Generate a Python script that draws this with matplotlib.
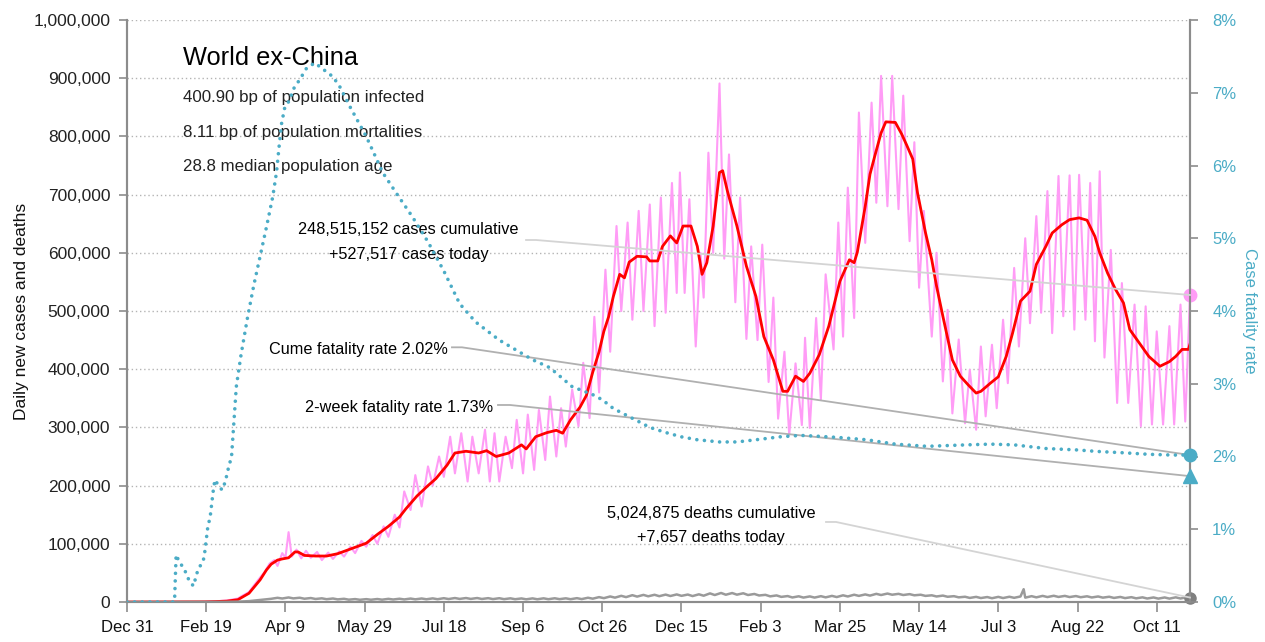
import datetime as dt
import matplotlib
matplotlib.use("Agg")
import matplotlib.pyplot as plt

# ---------------- data ----------------
START = dt.date(2019, 12, 31)
LAST_DAY = 671  # days after START (Nov 1, 2021)

# 7-day average of daily new cases (thousands)
avg_day = [0, 42, 49, 56, 63, 70, 77, 84, 88, 91, 95, 98, 102, 106, 108, 112, 119, 126, 133, 140,
           145, 151, 158, 165, 172, 176, 183, 190, 195, 202, 207, 214, 222, 227, 233, 241, 249, 252,
           258, 265, 271, 275, 280, 286, 290, 294, 298, 301, 304, 307, 311, 314, 317, 322, 328, 330,
           335, 338, 343, 347, 351, 356, 360, 363, 366, 370, 374, 376, 379, 385, 391, 397, 402, 408,
           414, 417, 422, 427, 431, 437, 443, 450, 456, 459, 461, 466, 469, 472, 476, 479, 485, 489,
           492, 496, 499, 504, 508, 511, 515, 521, 526, 531, 536, 539, 545, 550, 555, 559, 564, 570,
           574, 580, 584, 590, 595, 601, 606, 611, 614, 619, 624, 629, 633, 639, 645, 652, 658, 662,
           666, 670, 671]
avg_cases_k = [0, 0.1, 0.3, 0.8, 1.5, 4, 15, 38, 55, 65, 72, 74, 76, 86, 86, 80, 79, 79, 83, 90,
               95, 101, 116, 130, 146, 160, 182, 200, 212, 235, 256, 259, 256, 260, 250, 256, 270, 263,
               284, 291, 295, 290, 313, 335, 355, 395, 430, 465, 490, 525, 563, 557, 584, 594, 593, 586,
               586, 611, 629, 617, 646, 646, 611, 563, 583, 646, 738, 741, 706, 646, 577, 525, 456, 416,
               362, 362, 388, 379, 393, 425, 474, 551, 588, 583, 601, 680, 735, 766, 806, 825, 824, 804,
               786, 761, 703, 635, 588, 543, 491, 416, 388, 373, 359, 362, 376, 387, 422, 462, 517, 534,
               580, 611, 634, 648, 657, 660, 656, 628, 600, 565, 537, 514, 468, 445, 422, 405, 413, 422,
               434, 434, 443]

# daily new cases (thousands), weekly highs and lows
daily_day = [0, 45, 52, 56, 60, 63, 66, 70, 73, 77, 80, 84, 87, 90, 93, 95, 98, 100, 102, 104,
             107, 110, 113, 116, 120, 123, 127, 130, 134, 137, 141, 144, 148, 151, 155, 158, 162, 165,
             169, 172, 175, 179, 182, 186, 190, 193, 197, 200, 204, 207, 211, 215, 218, 222, 226, 229,
             232, 235, 239, 243, 246, 250, 253, 257, 260, 264, 267, 271, 274, 277, 281, 285, 288, 292,
             295, 298, 302, 305, 309, 312, 316, 319, 323, 326, 330, 333, 337, 340, 344, 347, 349, 352,
             355, 359, 362, 364, 367, 370, 374, 377, 380, 384, 387, 391, 394, 398, 401, 405, 408, 411,
             415, 418, 422, 426, 428, 431, 435, 438, 441, 446, 449, 452, 455, 459, 462, 466, 470, 473,
             476, 480, 483, 487, 490, 494, 497, 500, 503, 508, 511, 515, 518, 521, 525, 529, 532, 536,
             539, 542, 546, 549, 553, 556, 560, 563, 567, 570, 574, 577, 581, 584, 588, 591, 595, 598,
             601, 605, 608, 611, 614, 617, 621, 625, 628, 632, 636, 640, 643, 647, 650, 654, 658, 661,
             665, 668, 671]
daily_cases_k = [0, 0, 0.5, 1, 2, 2.5, 4, 6, 11, 17, 28, 42, 52, 66, 72, 62, 84, 76, 120, 78,
                 90, 75, 88, 76, 86, 72, 85, 74, 87, 78, 95, 84, 105, 95, 115, 100, 130, 112,
                 150, 128, 190, 158, 218, 164, 233, 200, 250, 215, 284, 221, 290, 207, 284, 221, 296, 207,
                 290, 207, 284, 230, 313, 221, 322, 227, 330, 244, 353, 250, 333, 267, 365, 302, 411, 316,
                 490, 360, 571, 430, 646, 500, 652, 485, 672, 500, 683, 474, 695, 497, 720, 531, 738, 531,
                 692, 439, 600, 523, 772, 600, 891, 590, 769, 515, 695, 452, 611, 450, 614, 378, 523, 315,
                 430, 287, 410, 304, 454, 299, 488, 348, 563, 434, 652, 456, 712, 488, 841, 617, 858, 686,
                 904, 680, 904, 675, 870, 620, 790, 540, 672, 456, 600, 379, 502, 324, 451, 307, 399, 296,
                 439, 319, 442, 333, 485, 376, 574, 439, 625, 479, 663, 497, 706, 462, 732, 491, 733, 468,
                 734, 485, 720, 448, 740, 420, 605, 342, 548, 342, 511, 302, 508, 305, 465, 305, 474, 305,
                 511, 310, 527.517]

# daily new deaths (thousands)
death_day = [0, 55, 63, 70, 77, 84, 88, 91, 95, 98, 102, 105, 109, 112, 116, 119, 123, 126, 130, 133,
             137, 140, 144, 147, 151, 154, 158, 161, 165, 168, 172, 175, 179, 182, 186, 189, 193, 196,
             200, 203, 207, 210, 214, 217, 221, 224, 228, 231, 235, 238, 242, 245, 249, 252, 256, 259,
             263, 266, 270, 273, 277, 280, 284, 287, 291, 294, 298, 301, 305, 308, 312, 315, 319, 322,
             326, 329, 333, 336, 340, 343, 347, 350, 354, 357, 361, 364, 368, 371, 375, 378, 382, 385,
             389, 392, 396, 399, 403, 406, 410, 413, 417, 420, 424, 427, 431, 434, 438, 441, 445, 448,
             452, 455, 459, 462, 466, 469, 473, 476, 480, 483, 487, 490, 494, 497, 501, 504, 508, 511,
             515, 518, 522, 525, 529, 532, 536, 539, 543, 546, 550, 553, 557, 560, 564, 566, 567, 571,
             574, 578, 581, 585, 588, 592, 595, 599, 602, 606, 609, 613, 616, 620, 623, 627, 630, 634,
             637, 641, 644, 648, 651, 655, 658, 662, 665, 669, 671]
daily_deaths_k = [0, 0.05, 0.2, 0.6, 1.5, 3.5, 4.8, 5.5, 7.2, 6.0, 7.8, 6.2, 7.3, 5.6, 6.8, 5.2, 6.3, 4.8, 6.0, 4.5,
                  5.5, 4.0, 5.0, 3.8, 4.9, 3.9, 5.1, 4.0, 5.4, 4.3, 5.6, 4.4, 5.9, 4.6, 6.0, 4.7, 6.2, 4.8,
                  6.5, 5.1, 6.8, 5.3, 6.8, 5.3, 6.8, 5.2, 6.6, 5.0, 6.5, 4.9, 6.3, 4.8, 6.1, 4.6, 6.2, 4.7,
                  6.3, 4.8, 6.4, 4.9, 6.3, 4.8, 6.6, 5.0, 7.3, 5.7, 8.4, 6.6, 9.5, 7.5, 10.6, 8.4, 11.7, 9.3,
                  12.2, 9.8, 12.4, 10.0, 12.7, 10.3, 13.0, 10.6, 12.8, 10.2, 13.2, 10.8, 14.8, 12.0, 15.5, 12.5, 15.4, 12.6,
                  15.0, 12.0, 13.8, 11.2, 12.3, 9.7, 11.3, 8.8, 10.2, 7.8, 9.8, 7.6, 9.6, 7.6, 10.0, 8.0, 10.5, 8.5,
                  11.5, 9.5, 12.5, 10.5, 13.0, 11.0, 14.0, 12.0, 14.5, 12.5, 14.0, 12.0, 13.5, 11.5, 12.5, 10.5, 11.5, 9.5,
                  11.0, 9.0, 10.0, 8.0, 9.0, 7.0, 8.8, 6.8, 8.5, 6.5, 8.8, 6.8, 9.0, 7.2, 9.5, 22.0, 7.5, 10.0,
                  8.0, 10.5, 8.5, 10.7, 8.7, 10.5, 8.5, 10.2, 8.2, 9.8, 7.8, 9.5, 7.5, 9.0, 7.0, 8.7, 6.7, 8.3,
                  6.3, 8.0, 6.0, 7.8, 5.8, 7.8, 5.8, 8.0, 6.0, 8.2, 7.657]

# cumulative case fatality rate (%)
cfr_day = [0, 29, 30, 31, 33, 36, 39.5, 42, 44, 46, 48, 49, 51, 52.5, 54.5, 55.5, 57.5, 60, 62, 64,
           66, 67, 69, 72, 76, 80, 84, 88, 92, 94.4, 96, 97.6, 99.7, 102.8, 104.7, 109, 113.4, 118.6,
           122.8, 130, 134.4, 140.7, 151, 161.5, 170, 180, 190, 200, 210, 220, 235, 256, 267, 281, 294,
           300, 307, 315, 323, 330, 340, 350, 360, 374, 385, 397, 412, 425, 435, 450, 467, 485, 505,
           530, 545, 560, 580, 600, 612, 630, 645, 660, 671]
cfr_pct = [0, 0, 0, 0.65, 0.55, 0.46, 0.28, 0.22, 0.39, 0.49, 0.55, 0.67, 1.03, 1.17, 1.54, 1.68, 1.61, 1.54,
           1.65, 1.84, 2.0, 2.32, 2.96, 3.4, 3.9, 4.35, 4.75, 5.15, 5.57, 5.91, 6.26, 6.58, 6.81, 6.9, 7.04,
           7.18, 7.34, 7.41, 7.34, 7.22, 7.08, 6.81, 6.40, 5.90, 5.62, 5.3, 4.95, 4.55, 4.1, 3.85, 3.6, 3.33,
           3.22, 2.96, 2.85, 2.78, 2.66, 2.57, 2.48, 2.40, 2.33, 2.27, 2.23, 2.20, 2.20, 2.23, 2.27, 2.29,
           2.28, 2.26, 2.23, 2.17, 2.14, 2.16, 2.17, 2.16, 2.11, 2.09, 2.07, 2.05, 2.03, 2.02, 2.02]

two_week_cfr_pct = 1.73
cume_cfr_pct = 2.02
cases_today = 527517
deaths_today = 7657

title = "World ex-China"
subtitles = ["400.90 bp of population infected",
             "8.11 bp of population mortalities",
             "28.8 median population age"]
cases_note = ["248,515,152 cases cumulative", "+527,517 cases today"]
deaths_note = ["5,024,875 deaths cumulative", "+7,657 deaths today"]
cume_note = "Cume fatality rate 2.02%"
twoweek_note = "2-week fatality rate 1.73%"
tick_days = list(range(0, 651, 50))

# ---------------- style ----------------
plt.rcParams["font.family"] = ["Liberation Sans", "DejaVu Sans"]

PINK = "#ff9cf6"
RED = "#ff0000"
TEAL = "#4bacc6"
GREY = "#9a9a9a"
AXIS = "#8c8c8c"

W, H = 1265, 642
fig = plt.figure(figsize=(W / 100, H / 100), dpi=100)
L, R, T, B = 127, 1190, 20, 602
ax = fig.add_axes([L / W, 1 - B / H, (R - L) / W, (B - T) / H])
ax2 = ax.twinx()

ax.set_xlim(0, LAST_DAY)
ax.set_ylim(0, 1_000_000)
ax2.set_ylim(0, 8)

ax.plot(daily_day, [v * 1000 for v in daily_cases_k], color=PINK, lw=1.5, zorder=2)
ax.plot(avg_day, [v * 1000 for v in avg_cases_k], color=RED, lw=2.0, zorder=3)
ax.plot(death_day, [v * 1000 for v in daily_deaths_k], color=GREY, lw=1.8, zorder=3)
ax.plot([LAST_DAY], [cases_today], "o", color=PINK, ms=9, clip_on=False, zorder=5)
ax.plot([LAST_DAY], [deaths_today], "o", color="#808080", ms=8, clip_on=False, zorder=5)

ax2.plot(cfr_day, cfr_pct, color=TEAL, lw=2.6, linestyle=(0, (0.01, 2.1)),
         dash_capstyle="round", zorder=4)
ax2.plot([LAST_DAY], [cume_cfr_pct], "o", color=TEAL, ms=9, clip_on=False, zorder=5)
ax2.plot([LAST_DAY], [two_week_cfr_pct], "^", color=TEAL, ms=10, clip_on=False, zorder=5)

ax.set_yticks(range(0, 1_000_001, 100_000))
ax.yaxis.set_major_formatter(matplotlib.ticker.FuncFormatter(lambda v, p: f"{int(v):,}"))
ax.grid(axis="y", color="#b4b4b4", linestyle=(0, (1, 2)), lw=1.0)
ax.set_axisbelow(True)

ax2.set_yticks(range(0, 9))
ax2.yaxis.set_major_formatter(matplotlib.ticker.FuncFormatter(lambda v, p: f"{int(v)}%"))

ax.set_xticks(tick_days)
ax.set_xticklabels([(START + dt.timedelta(days=d)).strftime("%b ") + str((START + dt.timedelta(days=d)).day)
                    for d in tick_days])

for a in (ax, ax2):
    a.spines["top"].set_visible(False)
    for s in ("left", "right", "bottom"):
        a.spines[s].set_color(AXIS)
        a.spines[s].set_linewidth(1.5)
ax2.patch.set_visible(False)

ax.tick_params(axis="x", length=7, width=1.2, color=AXIS, labelsize=12, pad=6, labelcolor="#111111")
ax.tick_params(axis="y", length=6, width=1.2, color=AXIS, labelsize=12.5, pad=6, labelcolor="#222222")
ax2.tick_params(axis="y", length=6, width=1.2, color=AXIS, labelsize=12, pad=10, labelcolor=TEAL)

ax.set_ylabel("Daily new cases and deaths", fontsize=12.5, labelpad=3, color="#111111")
ax2.set_ylabel("Case fatality rate", fontsize=12, color=TEAL, rotation=270, labelpad=15)

# texts
tr = ax2.transAxes
ax2.text(0.0527, 0.9227, title, transform=tr, fontsize=18.3, va="baseline", ha="left", color="#000000")
for s, y in zip(subtitles, [0.8596, 0.7995, 0.7411]):
    ax2.text(0.0527, y, s, transform=tr, fontsize=12.2, va="baseline", ha="left", color="#222222")

NOTE = 11.7
ax2.text(0.2648, 0.6323, cases_note[0], transform=tr, fontsize=NOTE, ha="center", va="baseline")
ax2.text(0.2648, 0.5893, cases_note[1], transform=tr, fontsize=NOTE, ha="center", va="baseline")
ax2.text(0.302, 0.4261, cume_note, transform=tr, fontsize=NOTE, ha="right", va="baseline")
ax2.text(0.3443, 0.3265, twoweek_note, transform=tr, fontsize=NOTE, ha="right", va="baseline")
ax2.text(0.5494, 0.1443, deaths_note[0], transform=tr, fontsize=NOTE, ha="center", va="baseline")
ax2.text(0.5494, 0.1031, deaths_note[1], transform=tr, fontsize=NOTE, ha="center", va="baseline")


def connector(x0, x1, y0, yend, color):
    ax2.plot([x0, x1, 1.0], [y0, y0, yend], transform=tr, color=color, lw=1.3, zorder=3.5,
             clip_on=False)


connector(0.3754, 0.3848, 0.622, cases_today / 1_000_000, "#d4d4d4")
connector(0.3057, 0.3151, 0.4376, cume_cfr_pct / 8, "#b0b0b0")
connector(0.3490, 0.3603, 0.3385, two_week_cfr_pct / 8, "#b0b0b0")
connector(0.6576, 0.6670, 0.1375, deaths_today / 1_000_000, "#d4d4d4")

fig.savefig("out.png", dpi=100)
